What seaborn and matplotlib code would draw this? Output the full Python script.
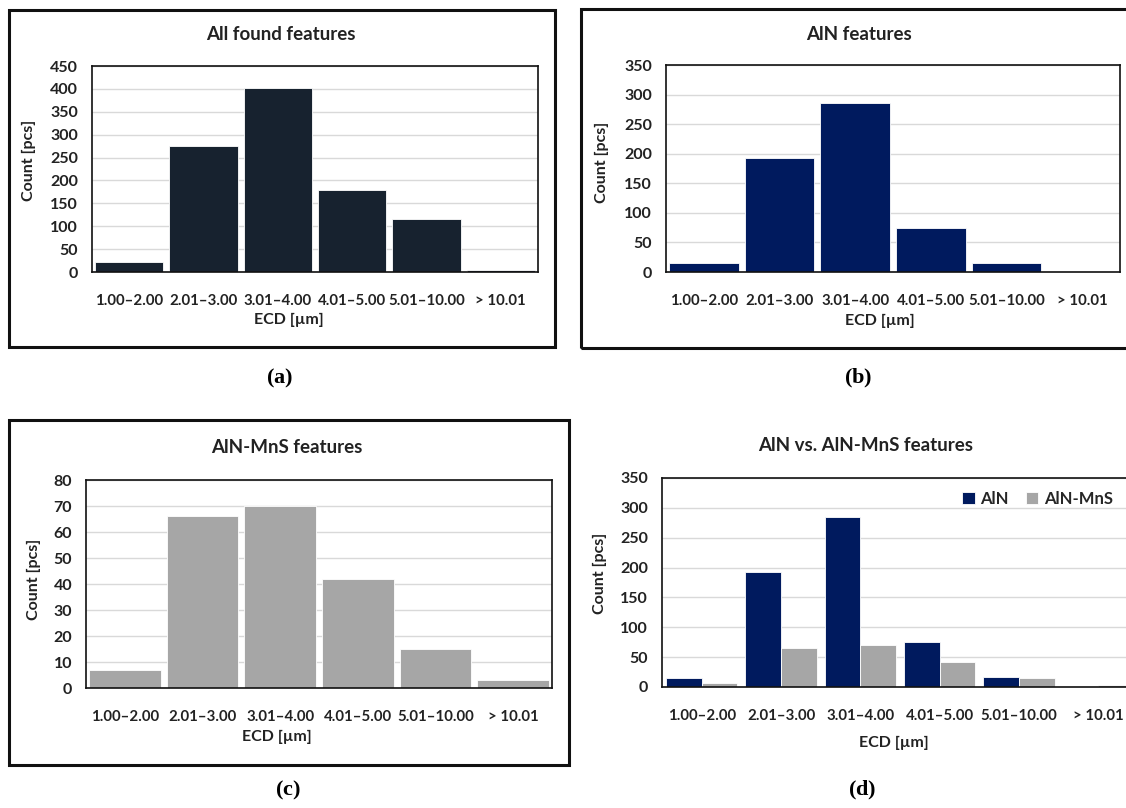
import matplotlib
matplotlib.use("Agg")
from matplotlib import pyplot as plt
from matplotlib.patches import Rectangle
import seaborn as sns
import pandas as pd

# data
bins = ["1.00–2.00", "2.01–3.00", "3.01–4.00", "4.01–5.00", "5.01–10.00", "> 10.01"]
all_counts = [22, 275, 402, 179, 115, 5]
aln_counts = [15, 193, 285, 75, 16, 0]
alnmns_counts = [7, 66, 70, 42, 15, 3]

c_all = "#17222f"
c_aln = "#001a5e"
c_mns = "#a6a6a6"

W, H = 1126, 808

sns.set_theme(style="white")
plt.rcParams["font.family"] = ["Lato", "DejaVu Sans"]
plt.rcParams["font.weight"] = "bold"
plt.rcParams["mathtext.fontset"] = "custom"
plt.rcParams["mathtext.bf"] = "Liberation Serif:bold"
plt.rcParams["mathtext.rm"] = "Liberation Serif"

fig = plt.figure(figsize=(W / 100, H / 100), dpi=100)


def box(l, t, r, b):
    return [l / W, 1 - b / H, (r - l) / W, (b - t) / H]


def ftext(x, y, s, **kw):
    fig.text(x / W, 1 - y / H, s, ha="center", va="center", **kw)


def frame(l, t, r, b):
    fig.add_artist(Rectangle((l / W, 1 - b / H), (r - l) / W, (b - t) / H,
                             transform=fig.transFigure, fill=False,
                             lw=2.2, ec="#111111"))


def style(ax, ymax, step):
    ax.set_ylim(0, ymax)
    ax.set_yticks(range(0, ymax + 1, step))
    ax.yaxis.grid(True, color="#d9d9d9", lw=1)
    ax.set_axisbelow(True)
    ax.set_xlabel("")
    ax.set_ylabel("")
    for s in ax.spines.values():
        s.set_visible(True)
        s.set_color("#111111")
        s.set_linewidth(1.2)
    ax.tick_params(axis="x", length=0, labelsize=10.8, colors="#222222", pad=16)
    ax.tick_params(axis="y", length=0, labelsize=11.5, colors="#222222", pad=10)
    for t in ax.get_xticklabels() + ax.get_yticklabels():
        t.set_fontweight("bold")


panels = [
    ("All found features", all_counts, c_all, (92, 66, 538, 272), 450, 50),
    ("AlN features", aln_counts, c_aln, (666, 65, 1120, 272), 350, 50),
    ("AlN-MnS features", alnmns_counts, c_mns, (86, 480, 552, 688), 80, 10),
]

for title, vals, col, pos, ymax, step in panels:
    ax = fig.add_axes(box(*pos))
    sns.barplot(x=bins, y=vals, color=col, width=0.92, saturation=1,
                edgecolor="white", linewidth=0.6, ax=ax)
    style(ax, ymax, step)

# panel d: grouped bars
df = pd.DataFrame({
    "bin": bins * 2,
    "count": aln_counts + alnmns_counts,
    "type": ["AlN"] * len(bins) + ["AlN-MnS"] * len(bins),
})
axd = fig.add_axes(box(662, 478, 1138, 687))
sns.barplot(data=df, x="bin", y="count", hue="type", palette=[c_aln, c_mns],
            width=0.9, saturation=1, edgecolor="white", linewidth=0.6, ax=axd)
style(axd, 350, 50)
axd.legend(loc="center left", bbox_to_anchor=(962 / W, 1 - 499 / H),
           bbox_transform=fig.transFigure, ncol=2, frameon=False,
           handlelength=0.75, handleheight=0.75, handletextpad=0.35,
           columnspacing=1.0, borderaxespad=0, borderpad=0,
           prop={"weight": "bold", "size": 12})

# titles and axis labels
for x, y, s in [(281, 35, "All found features"), (859, 34, "AlN features"),
                (287, 447, "AlN-MnS features"), (866, 445, "AlN vs. AlN-MnS features")]:
    ftext(x, y, s, fontsize=13.5, fontweight="bold", color="#222222")
for x, y in [(289, 320), (880, 321), (277, 737), (894, 743)]:
    ftext(x, y, "ECD [µm]", fontsize=11.5, fontweight="bold", color="#222222")
for x, y in [(29, 160), (602, 162), (34, 579), (600, 573)]:
    ftext(x, y, "Count [pcs]", fontsize=11.5, fontweight="bold", color="#222222",
          rotation=90)

# panel labels
for x, y, s in [(280, 378, "a"), (858, 378, "b"), (288, 790, "c"), (862, 790, "d")]:
    ftext(x, y, r"($\mathbf{%s}$)" % s, fontsize=16, family="Liberation Serif",
          color="black")

# outer frames
frame(9, 10, 555, 347)
frame(581, 9, 1140, 348)
frame(9, 420, 569, 765)

fig.savefig("out.png", dpi=100)
